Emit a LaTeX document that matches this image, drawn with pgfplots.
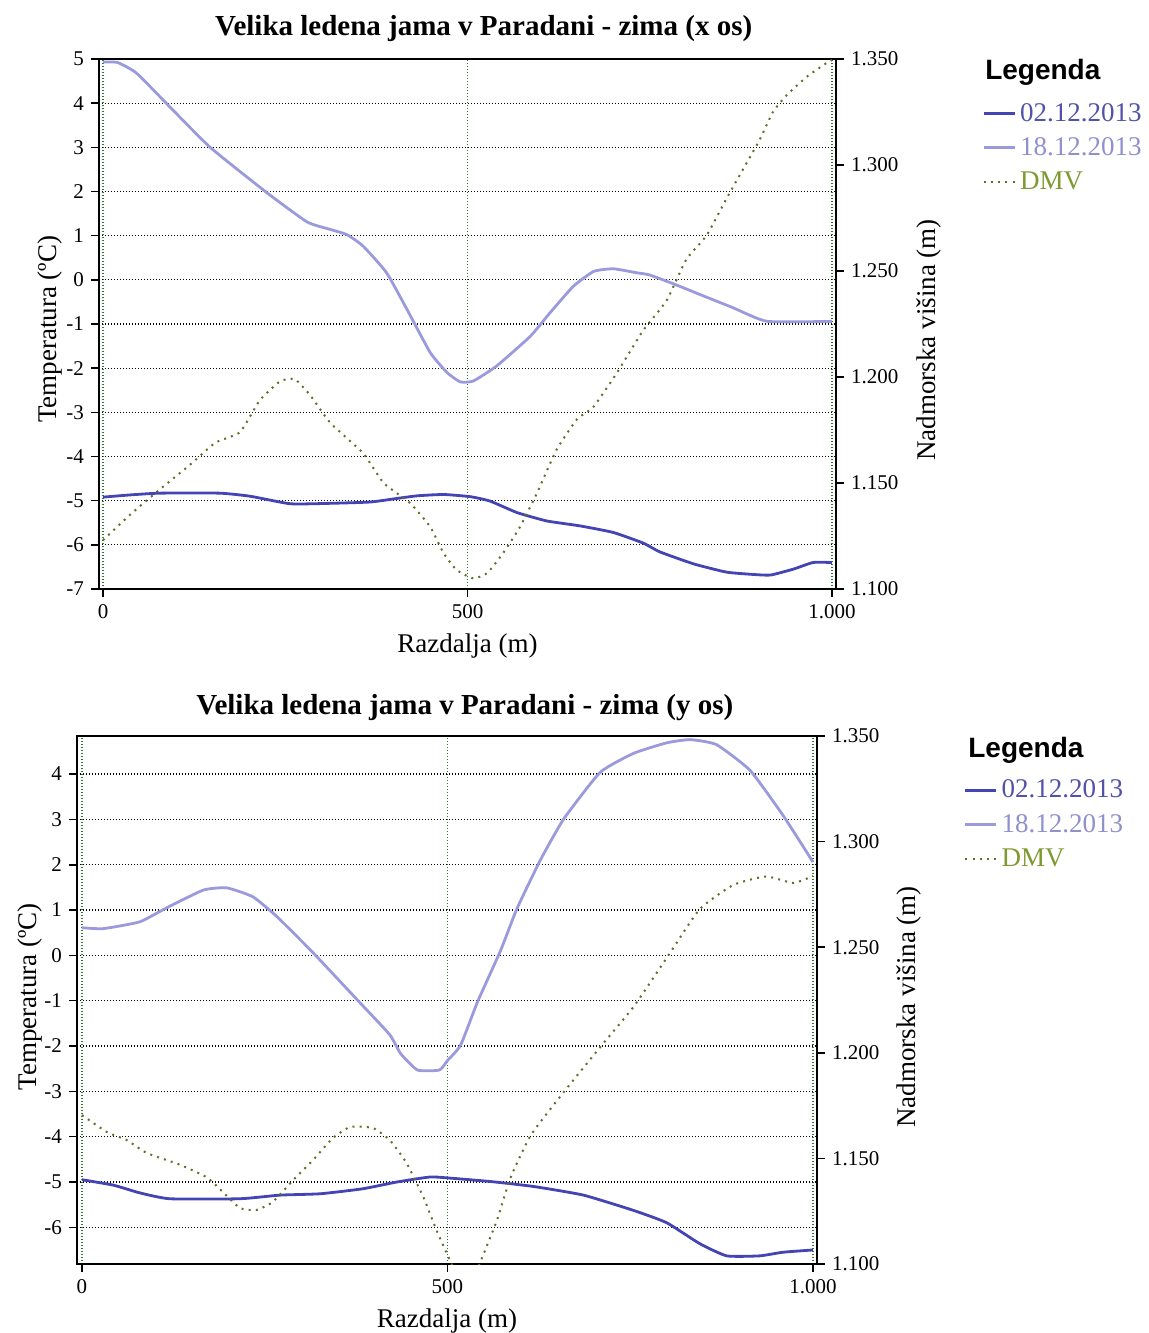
\documentclass[border=0pt]{standalone}
\usepackage{pgfplots}
\pgfplotsset{compat=1.18}
\usepackage{fontspec}
\setmainfont{Liberation Serif}
\newfontfamily\legsans{Liberation Sans}
\definecolor{dkb}{HTML}{4444B4}
\definecolor{ltb}{HTML}{9A9ADC}
\definecolor{dmv}{HTML}{5F7028}
\definecolor{dmvt}{HTML}{7F9A30}
\definecolor{grd}{HTML}{2E7A2E}
\definecolor{dkt}{HTML}{5252A8}
\definecolor{ltt}{HTML}{9090CC}

\pgfplotsset{
  common/.style={
    scale only axis,
    clip mode=individual,
    /pgf/number format/assume math mode=true,
    /pgf/number format/1000 sep={.},
    tick label style={font=\fontsize{10.5}{12}\selectfont},
    label style={font=\fontsize{13.5}{15}\selectfont},
    title style={font=\bfseries\fontsize{14.5}{16}\selectfont},
    axis line style={line width=0.9pt},
    tick style={black, line width=0.8pt},
    major tick length=4pt,
    tick align=outside,
  },
  leftax/.style={
    common,
    xtick={0,500,1000},
    xtick pos=left, ytick pos=left,
    xmajorgrids, ymajorgrids,
    major x grid style={draw=grd, line width=0.6pt, dash pattern=on 0.6pt off 0.9pt},
    major y grid style={draw=black, line width=0.6pt, dash pattern=on 0.6pt off 0.9pt},
  },
  rightax/.style={
    common,
    ymin=1100, ymax=1350,
    ytick={1100,1150,...,1350},
    axis y line*=right, axis x line=none,
    legend style={draw=none, fill=none, inner sep=0pt, anchor=north west,
      font=\fontsize{13.5}{15}\selectfont, row sep=2.6pt, legend cell align=left},
    legend image code/.code={\draw[##1] (0pt,0pt) -- (15.5pt,0pt);},
  },
  dk/.style={dkb, line width=1.4pt, smooth, tension=0.3},
  lt/.style={ltb, line width=1.4pt, smooth, tension=0.3},
  dm/.style={dmv, line width=1pt, dash pattern=on 1pt off 2.6pt, smooth, tension=0.3},
}

\begin{document}
\begin{tikzpicture}
\useasboundingbox (0pt,0pt) rectangle (574pt,-666.5pt);

% ---------------- Top panel ----------------
\begin{axis}[leftax, at={(49.5pt,-294.5pt)}, anchor=south west,
  width=368.5pt, height=265pt,
  xmin=-5.5, xmax=1005.5, ymin=-7, ymax=5, ytick={-7,...,5},
  title={Velika ledena jama v Paradani - zima (x os)},
  title style={at={(axis description cs:0.522,1)}, anchor=base, yshift=5.5pt},
  xlabel={Razdalja (m)},
  xlabel style={at={(axis description cs:0.5,0)}, anchor=base, yshift=-31.5pt},
  ylabel={Temperatura (ºC)},
  ylabel style={at={([xshift=-21pt]axis description cs:0,0.49)}, rotate=0, anchor=base},
]
\addplot[dk] coordinates {(0,-4.92) (37,-4.87) (78,-4.83) (160,-4.83) (202,-4.90) (257,-5.07) (312,-5.06) (367,-5.03) (403,-4.95) (431,-4.89) (467,-4.86) (504,-4.91) (531,-5.01) (568,-5.27) (609,-5.46) (654,-5.57) (700,-5.72) (741,-5.96) (764,-6.16) (810,-6.43) (856,-6.62) (901,-6.68) (917,-6.68) (947,-6.55) (974,-6.40) (1000,-6.40)};
\addplot[lt] coordinates {(0,4.93) (20,4.92) (46,4.68) (92,3.91) (147,3.0) (225,1.97) (280,1.31) (312,1.14) (335,1.02) (357,0.76) (389,0.16) (417,-0.67) (449,-1.65) (472,-2.10) (490,-2.31) (508,-2.29) (540,-1.95) (586,-1.28) (613,-0.75) (645,-0.15) (673,0.19) (700,0.25) (732,0.16) (750,0.11) (787,-0.12) (823,-0.36) (864,-0.63) (911,-0.94) (1000,-0.94)};
\end{axis}
\begin{axis}[rightax, at={(49.5pt,-294.5pt)}, anchor=south west,
  width=368.5pt, height=265pt,
  xmin=-5.5, xmax=1005.5,
  ylabel={Nadmorska višina (m)},
  ylabel style={at={([xshift=49.5pt]axis description cs:1,0.47)}, rotate=0, anchor=base},
  legend style={at={(1.198,0.925)}},
]
\addlegendimage{dk}\addlegendentry{\textcolor{dkt}{02.12.2013}}
\addlegendimage{lt}\addlegendentry{\textcolor{ltt}{18.12.2013}}
\addplot[dm] coordinates {(0,1123) (37,1135) (78,1147) (119,1158.5) (154,1169) (188,1174) (215,1189) (243,1198) (263,1199) (284,1191.5) (312,1178.3) (357,1164) (385,1150) (421,1140.6) (449,1129.3) (467,1117) (485,1109) (508,1105) (527,1107.5) (549,1117) (572,1129.3) (595,1145) (622,1165.6) (650,1180) (673,1186) (705,1202) (741,1222) (773,1236) (800,1255.4) (828,1266.8) (856,1284.6) (883,1301) (901,1312) (919,1325) (938,1333) (965,1341.5) (992,1348) (1000,1349.5)};
\addlegendentry{\textcolor{dmvt}{DMV}}
\node[anchor=base west, font=\legsans\bfseries\fontsize{14}{16}\selectfont, inner sep=0pt] at (rel axis cs:1.202,0.962) {Legenda};
\end{axis}

% ---------------- Bottom panel ----------------
\begin{axis}[leftax, at={(38.5pt,-632pt)}, anchor=south west,
  width=370pt, height=264pt,
  xmin=-6.8, xmax=1005.5, ymin=-6.81, ymax=4.84, ytick={-6,...,4},
  title={Velika ledena jama v Paradani - zima (y os)},
  title style={at={(axis description cs:0.524,1)}, anchor=base, yshift=5pt},
  xlabel={Razdalja (m)},
  xlabel style={at={(axis description cs:0.5,0)}, anchor=base, yshift=-31.5pt},
  ylabel={Temperatura (ºC)},
  ylabel style={at={([xshift=-20pt]axis description cs:0,0.506)}, rotate=0, anchor=base},
]
\addplot[dk] coordinates {(0,-4.95) (43,-5.07) (79,-5.24) (120,-5.37) (216,-5.37) (271,-5.29) (326,-5.26) (384,-5.15) (431,-5.0) (476,-4.89) (500,-4.91) (559,-4.99) (618,-5.10) (686,-5.29) (755,-5.63) (800,-5.90) (845,-6.36) (882,-6.63) (927,-6.63) (959,-6.55) (1000,-6.50)};
\addplot[lt] coordinates {(0,0.61) (29,0.59) (79,0.74) (116,1.05) (166,1.44) (198,1.49) (234,1.29) (267,0.85) (316,0.06) (380,-1.04) (421,-1.75) (436,-2.17) (459,-2.53) (489,-2.53) (500,-2.32) (518,-1.98) (541,-1.03) (573,0.12) (595,1.03) (627,2.10) (659,3.01) (709,4.04) (755,4.46) (800,4.69) (832,4.76) (868,4.65) (914,4.08) (959,3.09) (1000,2.06)};
\end{axis}
\begin{axis}[rightax, at={(38.5pt,-632pt)}, anchor=south west,
  width=370pt, height=264pt,
  xmin=-6.8, xmax=1005.5,
  ylabel={Nadmorska višina (m)},
  ylabel style={at={([xshift=49pt]axis description cs:1,0.487)}, rotate=0, anchor=base},
  legend style={at={(1.198,0.925)}},
]
\addlegendimage{dk}\addlegendentry{\textcolor{dkt}{02.12.2013}}
\addlegendimage{lt}\addlegendentry{\textcolor{ltt}{18.12.2013}}
\addplot[dm] coordinates {(0,1170.5) (34,1162.5) (61,1158.7) (89,1152.5) (134,1147) (171,1141) (193,1134) (216,1126.5) (239,1125.6) (261,1129.4) (289,1139.8) (316,1149.2) (343,1159.6) (367,1164.9) (398,1164.4) (421,1158.7) (444,1147.8) (467,1131.7) (485,1116) (503,1102) (515,1093) (525,1090) (535,1093) (545,1101) (568,1121) (586,1140.7) (614,1161) (659,1181.4) (709,1202.7) (755,1222) (800,1245) (845,1268) (891,1279.5) (936,1283.5) (973,1280.4) (1000,1283.7)};
\addlegendentry{\textcolor{dmvt}{DMV}}
\node[anchor=base west, font=\legsans\bfseries\fontsize{14}{16}\selectfont, inner sep=0pt] at (rel axis cs:1.204,0.960) {Legenda};
\end{axis}
\end{tikzpicture}
\end{document}
